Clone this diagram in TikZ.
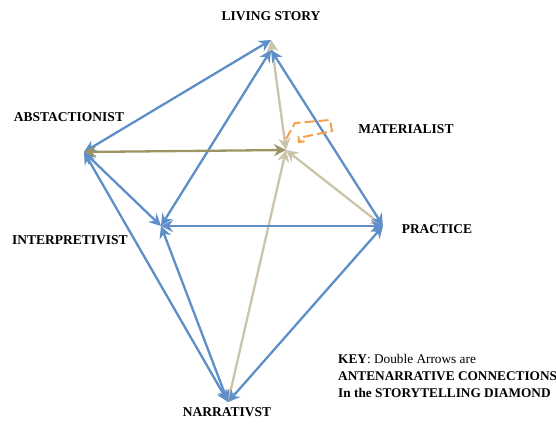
\documentclass[tikz,border=0pt]{standalone}
\usepackage{fontspec}
\setmainfont{Liberation Serif}
\usetikzlibrary{arrows.meta}
\definecolor{bl}{HTML}{5E8FC8}
\definecolor{tn}{HTML}{CBC4AA}
\definecolor{ol}{HTML}{9C9563}
\definecolor{orng}{HTML}{F5A04C}
\begin{document}
\begin{tikzpicture}[x=1pt,y=-1pt,
  lab/.style={font=\fontsize{13.5}{15}\selectfont\bfseries, inner sep=0pt},
  conn/.style={line width=2.3pt, {Stealth[length=12pt,width=12pt,inset=4pt]}-{Stealth[length=12pt,width=12pt,inset=4pt]}},
  blue/.style={conn, draw=bl, color=bl},
  tanl/.style={conn, draw=tn, color=tn},
  olive/.style={conn, draw=ol, color=ol}]
\useasboundingbox (0,0) rectangle (556,426);
\coordinate (LS) at (271,40);
\coordinate (LStwo) at (271,50);
\coordinate (ABS) at (84,152);
\coordinate (MAT) at (286,150);
\coordinate (INT) at (161,226);
\coordinate (PR) at (383,226);
\coordinate (NAR) at (228,402);
% tan lines
\draw[tanl] (MAT) -- (LS);
\draw[tanl] (MAT) -- (PR);
\draw[tanl] (MAT) -- (NAR);
% blue lines
\draw[blue] (ABS) -- (LS);
\draw[blue] (ABS) -- (INT);
\draw[blue] (ABS) -- (NAR);
\draw[blue] (INT) -- (LStwo);
\draw[blue] (INT) -- (PR);
\draw[blue] (INT) -- (NAR);
\draw[blue] (PR) -- (LStwo);
\draw[blue] (PR) -- (NAR);
% olive line
\draw[olive] (ABS) -- (MAT);
% orange dashed mark
\coordinate (o1) at (286,139);
\coordinate (o2) at (295,123);
\coordinate (o3) at (330,120);
\coordinate (o4) at (332,131);
\coordinate (o5) at (303,137);
\draw[orng, line width=2pt, dash pattern=on 10pt off 4pt, -{Straight Barb[length=4pt,width=8pt]}]
  (o1) -- (o2) -- (o3) -- (o4) -- (o5) -- (298,143);
% labels
\node[lab] (tLS) at (271,16) {LIVING STORY};
\node[lab] (tABS) at (69,117) {ABSTACTIONIST};
\node[lab] (tMAT) at (406,129) {MATERIALIST};
\node[lab] (tPR) at (437,229) {PRACTICE};
\node[lab] (tINT) at (70,240) {INTERPRETIVIST};
\node[lab] (tNAR) at (227,412) {NARRATIVST};
\node[anchor=north west, inner sep=0pt, align=left, font=\fontsize{13.3}{17}\selectfont] (key) at (338,354)
  {\textbf{KEY}: Double Arrows are\\ \textbf{ANTENARRATIVE CONNECTIONS}\\ \textbf{In the STORYTELLING DIAMOND}};
\end{tikzpicture}
\end{document}
